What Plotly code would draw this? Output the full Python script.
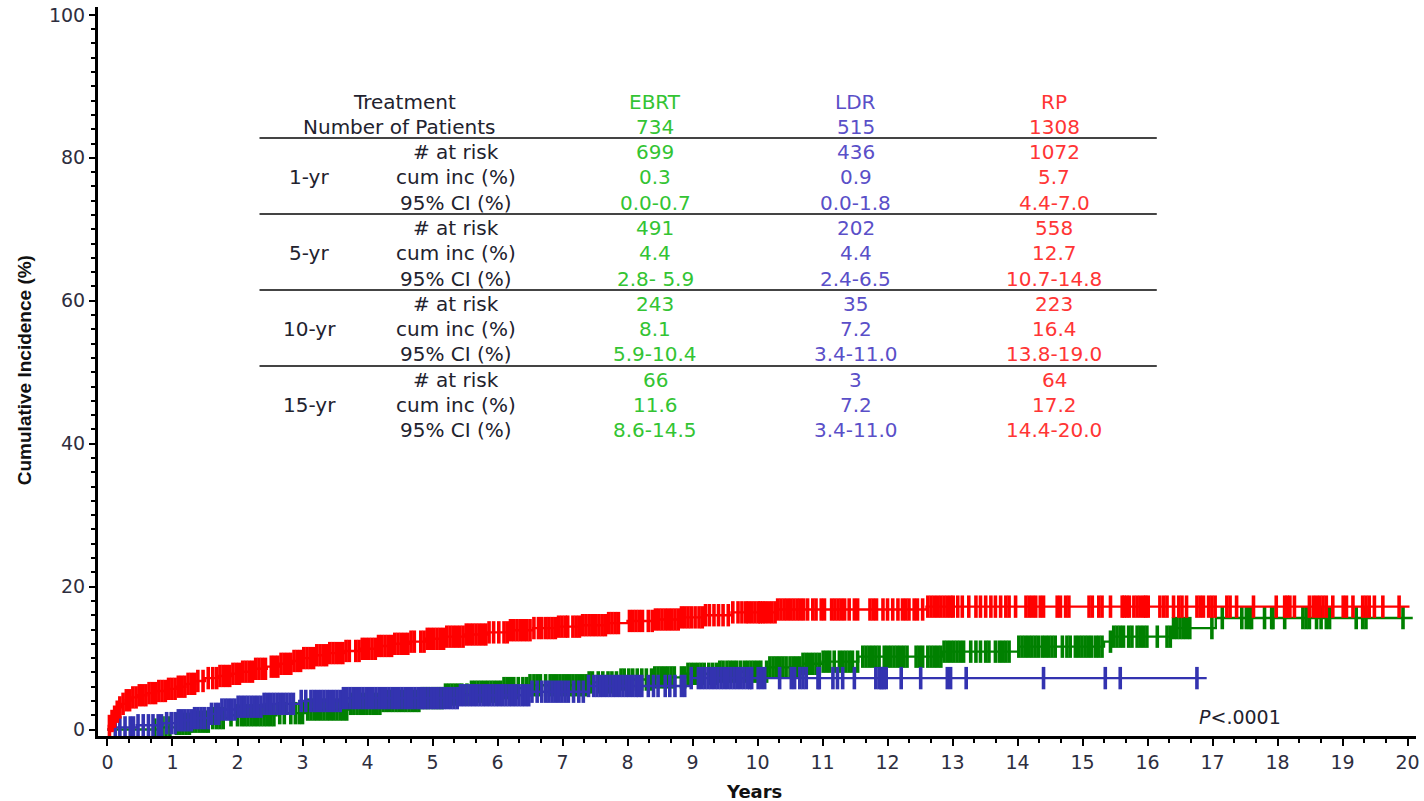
import numpy as np
import plotly.graph_objects as go

# ---------------- Cumulative incidence step functions (years, %) ----------------
ebrt_t = [0.00, 0.80, 1.05, 1.30, 1.60, 1.85, 2.60, 3.05, 3.70, 4.20, 4.80, 5.20, 5.60,
          6.10, 6.50, 7.40, 7.90, 8.40, 8.90, 9.40, 10.15, 10.70, 11.00, 11.55, 12.85,
          14.02, 15.33, 15.45, 16.40, 17.05]
ebrt_ci = [0.0, 0.3, 0.8, 1.1, 1.6, 2.0, 2.3, 2.8, 3.6, 4.0, 4.4, 4.9, 5.3,
           5.8, 6.2, 6.6, 7.0, 7.3, 7.8, 8.1, 8.7, 9.2, 9.5, 10.2, 10.9,
           11.6, 12.3, 13.0, 14.2, 15.6]
ebrt_end = 20.08

ldr_t = [0.00, 0.08, 0.45, 0.85, 1.05, 1.30, 1.60, 1.75, 2.00, 2.40, 2.95, 3.60,
         5.40, 6.50, 7.40, 8.98]
ldr_ci = [0.0, 0.3, 0.6, 0.9, 1.3, 1.6, 2.2, 2.8, 3.2, 3.6, 4.0, 4.4,
          4.8, 5.3, 6.1, 7.2]
ldr_end = 16.91

rp_t = [0.00, 0.02, 0.05, 0.08, 0.12, 0.17, 0.22, 0.28, 0.36, 0.45, 0.60, 0.75, 0.90,
        1.05, 1.20, 1.35, 1.50, 1.70, 1.90, 2.05, 2.25, 2.45, 2.65, 2.85, 3.00, 3.20,
        3.40, 3.65, 3.90, 4.15, 4.40, 4.65, 4.90, 5.20, 5.50, 5.85, 6.20, 6.55, 6.90,
        7.30, 7.70, 8.00, 8.40, 8.80, 9.20, 9.60, 10.30, 12.60]
rp_ci = [0.0, 0.5, 1.2, 1.8, 2.5, 3.1, 3.6, 4.1, 4.5, 4.8, 5.1, 5.4, 5.7,
         6.0, 6.4, 6.8, 7.2, 7.5, 7.8, 8.1, 8.5, 8.8, 9.2, 9.6, 10.0, 10.4,
         10.7, 11.0, 11.3, 11.7, 12.0, 12.3, 12.7, 13.0, 13.3, 13.6, 13.9, 14.2, 14.4,
         14.6, 14.9, 15.2, 15.4, 15.7, 16.0, 16.4, 16.8, 17.2]
rp_end = 20.03

# ---------------- Censoring times (years) ----------------
ebrt_censor = [
    0.72, 0.78, 0.84, 0.90, 0.96, 1.06, 1.11, 1.16, 1.21, 1.26, 1.31, 1.36, 1.41, 1.46,
    1.51, 1.55, 1.62, 1.68, 1.73, 1.78, 1.90, 2.00, 2.06, 2.11, 2.16, 2.21, 2.26, 2.31,
    2.36, 2.41, 2.46, 2.51, 2.56, 2.65, 2.72, 2.82, 2.89, 2.95, 3.00, 3.08, 3.13, 3.18,
    3.23, 3.28, 3.33, 3.38, 3.43, 3.48, 3.53, 3.58, 3.63, 3.68, 3.74, 3.79, 3.84, 3.89,
    3.94, 3.99, 4.04, 4.09, 4.14, 4.19, 4.24, 4.29, 4.34, 4.39, 4.44, 4.49, 4.54, 4.59,
    4.64, 4.69, 4.74, 4.79, 4.84, 4.89, 4.94, 5.00, 5.05, 5.10, 5.15, 5.20, 5.25, 5.30,
    5.35, 5.40, 5.45, 5.53, 5.60, 5.65, 5.70, 5.75, 5.80, 5.85, 5.90, 5.95, 6.00, 6.05,
    6.10, 6.15, 6.20, 6.25, 6.32, 6.39, 6.45, 6.50, 6.56, 6.61, 6.66, 6.74, 6.81, 6.86,
    6.91, 6.96, 7.01, 7.06, 7.11, 7.16, 7.21, 7.26, 7.31, 7.36, 7.41, 7.46, 7.55, 7.62,
    7.70, 7.76, 7.83, 7.90, 7.95, 8.02, 8.08, 8.15, 8.22, 8.29, 8.37, 8.42, 8.47, 8.52,
    8.57, 8.62, 8.67, 8.72, 8.83, 8.88, 8.93, 8.98, 9.03, 9.08, 9.13, 9.18, 9.25, 9.31,
    9.37, 9.42, 9.47, 9.53, 9.58, 9.63, 9.68, 9.74, 9.80, 9.85, 9.90, 9.95, 10.00, 10.05,
    10.14, 10.19, 10.24, 10.29, 10.34, 10.39, 10.44, 10.50, 10.55, 10.60, 10.65, 10.70,
    10.75, 10.80, 10.85, 10.90, 10.95, 11.01, 11.06, 11.11, 11.18, 11.26, 11.31, 11.36,
    11.41, 11.46, 11.54, 11.62, 11.67, 11.72, 11.77, 11.82, 11.87, 11.95, 12.00, 12.05,
    12.10, 12.15, 12.20, 12.25, 12.30, 12.44, 12.49, 12.54, 12.62, 12.67, 12.72, 12.77,
    12.82, 12.87, 12.92, 12.97, 13.02, 13.07, 13.12, 13.17, 13.28, 13.36, 13.43, 13.51,
    13.56, 13.66, 13.72, 13.77, 13.82, 13.87, 14.02, 14.07, 14.12, 14.17, 14.22, 14.27,
    14.32, 14.38, 14.43, 14.48, 14.53, 14.58, 14.69, 14.76, 14.81, 14.89, 14.94, 14.99,
    15.04, 15.09, 15.14, 15.20, 15.25, 15.30, 15.43, 15.48, 15.53, 15.58, 15.63, 15.71,
    15.76, 15.84, 15.89, 15.94, 15.99, 16.15, 16.30, 16.35, 16.40, 16.45, 16.50, 16.55,
    16.60, 16.65, 16.99, 17.15, 17.45, 17.52, 17.57, 17.60, 17.80, 17.91, 17.93, 18.11,
    18.39, 18.44, 18.49, 18.60, 18.67, 18.75, 18.80, 19.21, 19.31, 19.36, 19.93]

ldr_censor = [
    0.12, 0.19, 0.27, 0.35, 0.40, 0.47, 0.55, 0.63, 0.70, 0.78, 0.83, 0.91, 0.98, 1.04,
    1.09, 1.14, 1.19, 1.24, 1.29, 1.34, 1.39, 1.44, 1.49, 1.55, 1.60, 1.66, 1.71, 1.76,
    1.81, 1.86, 1.91, 1.96, 2.01, 2.06, 2.11, 2.16, 2.21, 2.26, 2.31, 2.36, 2.41, 2.46,
    2.51, 2.56, 2.61, 2.66, 2.71, 2.76, 2.81, 2.86, 2.98, 3.05, 3.13, 3.18, 3.23, 3.28,
    3.33, 3.38, 3.43, 3.48, 3.53, 3.58, 3.63, 3.68, 3.73, 3.78, 3.83, 3.88, 3.93, 3.98,
    4.03, 4.08, 4.13, 4.18, 4.23, 4.28, 4.33, 4.38, 4.43, 4.48, 4.53, 4.58, 4.63, 4.68,
    4.73, 4.78, 4.83, 4.88, 4.93, 4.98, 5.03, 5.08, 5.13, 5.18, 5.23, 5.28, 5.33, 5.38,
    5.43, 5.48, 5.53, 5.58, 5.63, 5.68, 5.73, 5.78, 5.83, 5.88, 5.93, 5.98, 6.03, 6.08,
    6.13, 6.18, 6.23, 6.28, 6.33, 6.38, 6.43, 6.48, 6.53, 6.61, 6.68, 6.74, 6.79, 6.84,
    6.89, 6.94, 6.99, 7.04, 7.09, 7.17, 7.25, 7.32, 7.40, 7.48, 7.53, 7.58, 7.63, 7.68,
    7.73, 7.78, 7.83, 7.88, 7.93, 7.98, 8.03, 8.08, 8.13, 8.17, 8.22, 8.32, 8.40, 8.47,
    8.58, 8.65, 8.73, 8.83, 8.88, 8.98, 9.09, 9.14, 9.19, 9.24, 9.29, 9.34, 9.39, 9.44,
    9.49, 9.54, 9.59, 9.64, 9.69, 9.74, 9.79, 9.84, 9.88, 9.91, 10.01, 10.06, 10.11,
    10.34, 10.52, 10.57, 10.65, 10.70, 10.75, 10.93, 10.95, 11.16, 11.23, 11.31, 11.49,
    11.82, 11.87, 11.90, 11.92, 11.95, 11.98, 12.21, 12.51, 12.92, 12.97, 13.21, 14.40,
    15.35, 15.58, 16.76]

rp_censor = [
    0.03, 0.07, 0.11, 0.15, 0.19, 0.24, 0.29, 0.34, 0.39, 0.44, 0.49, 0.54, 0.59, 0.64,
    0.69, 0.74, 0.79, 0.84, 0.89, 0.94, 0.99, 1.04, 1.09, 1.14, 1.19, 1.24, 1.29, 1.34,
    1.39, 1.47, 1.55, 1.62, 1.68, 1.73, 1.78, 1.83, 1.88, 1.93, 1.98, 2.03, 2.08, 2.13,
    2.18, 2.23, 2.28, 2.33, 2.38, 2.43, 2.52, 2.57, 2.62, 2.67, 2.72, 2.77, 2.82, 2.87,
    2.92, 2.97, 3.02, 3.07, 3.12, 3.17, 3.22, 3.27, 3.32, 3.37, 3.42, 3.47, 3.52, 3.57,
    3.62, 3.67, 3.72, 3.82, 3.87, 3.92, 3.97, 4.02, 4.07, 4.12, 4.17, 4.22, 4.27, 4.32,
    4.37, 4.42, 4.47, 4.52, 4.57, 4.62, 4.67, 4.72, 4.82, 4.87, 4.92, 4.97, 5.02, 5.07,
    5.12, 5.17, 5.22, 5.27, 5.32, 5.37, 5.42, 5.47, 5.52, 5.57, 5.62, 5.67, 5.72, 5.77,
    5.82, 5.87, 5.94, 6.02, 6.10, 6.15, 6.20, 6.25, 6.30, 6.35, 6.40, 6.45, 6.50, 6.56,
    6.63, 6.68, 6.74, 6.79, 6.84, 6.89, 6.94, 6.99, 7.04, 7.08, 7.16, 7.21, 7.26, 7.31,
    7.36, 7.41, 7.46, 7.51, 7.56, 7.61, 7.66, 7.71, 7.76, 7.81, 7.86, 8.03, 8.08, 8.13,
    8.18, 8.23, 8.32, 8.38, 8.43, 8.48, 8.53, 8.58, 8.63, 8.68, 8.73, 8.78, 8.83, 8.88,
    8.93, 8.98, 9.04, 9.10, 9.15, 9.20, 9.26, 9.33, 9.40, 9.47, 9.55, 9.62, 9.70, 9.76,
    9.82, 9.86, 9.91, 9.96, 10.01, 10.04, 10.08, 10.12, 10.17, 10.22, 10.27, 10.31,
    10.36, 10.41, 10.46, 10.51, 10.56, 10.61, 10.66, 10.71, 10.77, 10.85, 10.90, 10.98,
    11.03, 11.14, 11.19, 11.24, 11.29, 11.34, 11.41, 11.49, 11.54, 11.73, 11.78, 11.83,
    11.93, 12.00, 12.08, 12.16, 12.23, 12.28, 12.33, 12.41, 12.46, 12.54, 12.62, 12.67,
    12.72, 12.77, 12.82, 12.87, 12.92, 12.97, 13.01, 13.08, 13.15, 13.25, 13.36, 13.43,
    13.51, 13.59, 13.66, 13.74, 13.82, 13.87, 13.97, 14.13, 14.18, 14.23, 14.28, 14.35,
    14.40, 14.61, 14.66, 14.74, 14.79, 15.10, 15.15, 15.25, 15.30, 15.43, 15.61, 15.64,
    15.68, 15.72, 15.79, 15.84, 15.89, 15.94, 15.97, 16.01, 16.19, 16.25, 16.30, 16.40,
    16.48, 16.53, 16.60, 16.76, 16.81, 16.86, 16.94, 16.99, 17.04, 17.22, 17.27, 17.37,
    17.63, 17.98, 18.11, 18.15, 18.19, 18.26, 18.49, 18.55, 18.60, 18.65, 18.70, 18.75,
    18.85, 19.01, 19.06, 19.16, 19.31, 19.36, 19.41, 19.49, 19.62, 19.87]

# ---------------- Summary table ----------------
treatments = ["EBRT", "LDR", "RP"]
n_patients = ["734", "515", "1308"]
horizons = ["1-yr", "5-yr", "10-yr", "15-yr"]
row_labels = ["# at risk", "cum inc (%)", "95% CI (%)"]
ebrt_at_risk = [699, 491, 243, 66]
ldr_at_risk = [436, 202, 35, 3]
rp_at_risk = [1072, 558, 223, 64]
ebrt_cuminc = [0.3, 4.4, 8.1, 11.6]
ldr_cuminc = [0.9, 4.4, 7.2, 7.2]
rp_cuminc = [5.7, 12.7, 16.4, 17.2]
ebrt_ci95 = ["0.0-0.7", "2.8- 5.9", "5.9-10.4", "8.6-14.5"]
ldr_ci95 = ["0.0-1.8", "2.4-6.5", "3.4-11.0", "3.4-11.0"]
rp_ci95 = ["4.4-7.0", "10.7-14.8", "13.8-19.0", "14.4-20.0"]
p_value = "<.0001"

# ---------------- Styling ----------------
GREEN, BLUE, RED = "#008000", "#3333b0", "#ff0000"
TXT_GREEN, TXT_BLUE, TXT_RED = "#33c433", "#5a4fc8", "#ff3535"
INK = "#22222e"
FONT = "DejaVu Sans, Verdana, sans-serif"

W, H = 1424, 801
L, R, T, B = 98, 4, 7, 65
PW, PH = W - L - R, H - T - B


def px_x(px):
    return (px - L) / PW


def px_y(py):
    return (H - B - py) / PH


fig = go.Figure()

series = [
    (ebrt_t, ebrt_ci, ebrt_end, ebrt_censor, GREEN, "EBRT"),
    (ldr_t, ldr_ci, ldr_end, ldr_censor, BLUE, "LDR"),
    (rp_t, rp_ci, rp_end, rp_censor, RED, "RP"),
]

for t, ci, t_end, cens, col, name in series:
    xs = list(t) + [t_end]
    ys = list(ci) + [ci[-1]]
    fig.add_trace(go.Scatter(x=xs, y=ys, mode="lines", line=dict(color=col, width=2.4, shape="hv"),
                             name=name, showlegend=False, hoverinfo="skip"))
    idx = np.searchsorted(np.array(t), np.array(cens), side="right") - 1
    cy = np.array(ci)[idx]
    fig.add_trace(go.Scatter(x=cens, y=cy, mode="markers",
                             marker=dict(symbol="line-ns", size=16, color=col,
                                         line=dict(color=col, width=3.6)),
                             name=name + " censored", showlegend=False, hoverinfo="skip"))

ann = []
shapes = []

# table header
col_x = [657, 858, 1057]
label_x, year_x = 457, 310
txt_cols = [TXT_GREEN, TXT_BLUE, TXT_RED]
TF = 20


def add_text(text, px, py, color, size=TF, xanchor="center"):
    ann.append(dict(text=text, x=px_x(px), y=px_y(py), xref="paper", yref="paper",
                    showarrow=False, xanchor=xanchor, yanchor="middle",
                    font=dict(family=FONT, size=size, color=color)))


add_text("Treatment", 405, 102, INK)
add_text("Number of Patients", 400, 127, INK)
for j in range(3):
    add_text(treatments[j], col_x[j], 102, txt_cols[j])
    add_text(n_patients[j], col_x[j], 127, txt_cols[j])

at_risk = [ebrt_at_risk, ldr_at_risk, rp_at_risk]
cuminc = [ebrt_cuminc, ldr_cuminc, rp_cuminc]
ci95 = [ebrt_ci95, ldr_ci95, rp_ci95]

for k, hz in enumerate(horizons):
    y_line = 138 + 76 * k
    shapes.append(dict(type="line", xref="paper", yref="paper", x0=px_x(260), x1=px_x(1160),
                       y0=px_y(y_line), y1=px_y(y_line), line=dict(color="#444444", width=2)))
    rows_y = [152 + 25.3 * (3 * k + r) for r in range(3)]
    add_text(hz, year_x, rows_y[1], INK)
    for r, lab in enumerate(row_labels):
        add_text(lab, label_x, rows_y[r], INK)
    for j in range(3):
        add_text(str(at_risk[j][k]), col_x[j], rows_y[0], txt_cols[j])
        add_text(f"{cuminc[j][k]:.1f}", col_x[j], rows_y[1], txt_cols[j])
        add_text(ci95[j][k], col_x[j], rows_y[2], txt_cols[j])

# p-value
ann.append(dict(text="<i>P</i>" + p_value.replace("<", "&lt;"), x=px_x(1243), y=px_y(717),
                xref="paper", yref="paper", showarrow=False, xanchor="center", yanchor="middle",
                font=dict(family=FONT, size=19, color=INK)))

# axis titles
ann.append(dict(text="<b>Years</b>", x=px_x(756), y=px_y(791), xref="paper", yref="paper",
                showarrow=False, xanchor="center", yanchor="middle",
                font=dict(family=FONT, size=18, color="#111111")))
ann.append(dict(text="<b>Cumulative Incidence (%)</b>", x=px_x(25), y=px_y(370),
                xref="paper", yref="paper", showarrow=False, textangle=-90,
                xanchor="center", yanchor="middle",
                font=dict(family="Liberation Sans, Arial, sans-serif", size=19, color="#111111")))

axis_font = dict(family=FONT, size=19, color="#2e2e3e")

fig.update_layout(
    width=W, height=H,
    margin=dict(l=L, r=R, t=T, b=B),
    paper_bgcolor="white", plot_bgcolor="white",
    showlegend=False,
    annotations=ann, shapes=shapes,
    xaxis=dict(range=[-0.146, 20.13], tickmode="linear", tick0=0, dtick=1,
               showgrid=False, zeroline=False, showline=True, linecolor="black", linewidth=3,
               ticks="outside", ticklen=7, tickwidth=2, tickcolor="black",
               tickfont=axis_font,
               minor=dict(dtick=1 / 3, tick0=0, ticks="outside", ticklen=4, tickwidth=1.5,
                          tickcolor="black", showgrid=False)),
    yaxis=dict(range=[-0.9, 101.1], tickmode="linear", tick0=0, dtick=20,
               showgrid=False, zeroline=False, showline=True, linecolor="black", linewidth=3,
               ticks="outside", ticklen=6, tickwidth=2, tickcolor="black",
               tickfont=axis_font,
               minor=dict(dtick=2, tick0=0, ticks="outside", ticklen=4, tickwidth=1.5,
                          tickcolor="black", showgrid=False)),
)

fig.write_html("out.html")
